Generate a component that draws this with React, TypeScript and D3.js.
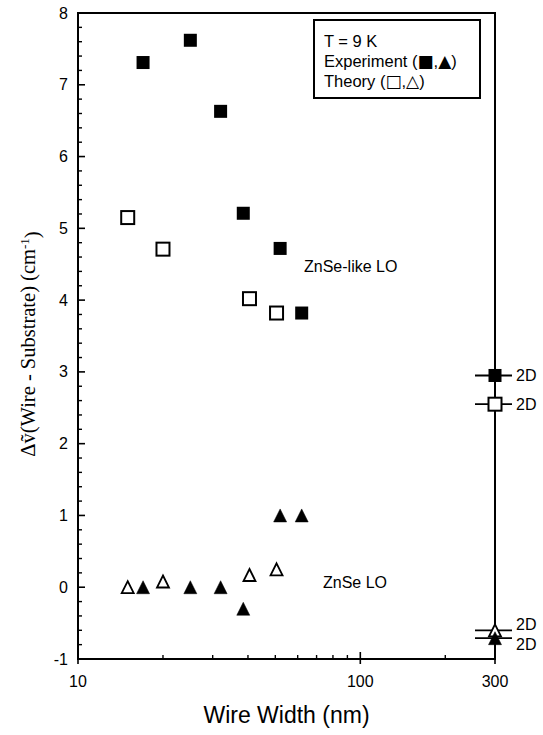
import React from "react";
import * as d3 from "d3";

// Experiment (filled markers)
const expWidth = [17, 25, 32, 38.5, 52, 62];
const expZnSeLike = [7.31, 7.62, 6.63, 5.21, 4.72, 3.82];
const expZnSe = [0, 0, 0, -0.3, 1.0, 1.0];
// Theory (open markers)
const theoryWidth = [15, 20, 40.5, 50.5];
const theoryZnSeLike = [5.15, 4.71, 4.02, 3.82];
const theoryZnSe = [0, 0.08, 0.17, 0.25];
// 2D limits at the right edge
const width2D = 300;
const kinds2D = ["expSquare", "theorySquare", "theoryTriangle", "expTriangle"];
const values2D = [2.95, 2.55, -0.6, -0.71];
const labelShift2D = [0, 0, -6, 6];

const yTicks = [-1, 0, 1, 2, 3, 4, 5, 6, 7, 8];
const xTicks = [10, 100, 300];
const xMinorTicks = [20, 30, 40, 50, 60, 70, 80, 90, 200];

const W = 543;
const H = 735;
const M = { left: 78, right: 48, top: 13, bottom: 76 };

export default function App() {
  const x = d3.scaleLog().domain([10, 300]).range([M.left, W - M.right]);
  const y = d3.scaleLinear().domain([-1, 8]).range([H - M.bottom, M.top]);
  const sans = "Arial, 'Liberation Sans', Helvetica, sans-serif";
  const serif = "'Times New Roman', 'Liberation Serif', 'DejaVu Serif', serif";
  const sym = "'DejaVu Sans', sans-serif";

  const sq = 6.5;
  const square = (cx: number, cy: number, filled: boolean, key: string) => (
    <rect key={key} x={cx - sq} y={cy - sq} width={2 * sq} height={2 * sq}
      fill={filled ? "#000" : "#fff"} stroke="#000" strokeWidth={filled ? 0 : 2} />
  );
  const tri = (cx: number, cy: number, filled: boolean, key: string) => {
    const h = filled ? 6.5 : 6;
    const w = filled ? 6.5 : 6;
    const p = d3.path();
    p.moveTo(cx, cy - h);
    p.lineTo(cx + w, cy + h);
    p.lineTo(cx - w, cy + h);
    p.closePath();
    return (
      <path key={key} d={p.toString()} fill={filled ? "#000" : "#fff"} stroke="#000"
        strokeWidth={filled ? 0.5 : 1.8} strokeLinejoin="miter" />
    );
  };

  const minorY = d3.range(-1, 8.001, 0.2).filter((v) => Math.abs(v - Math.round(v)) > 0.01);
  const x0 = M.left, x1 = W - M.right, y0 = H - M.bottom, y1 = M.top;
  const xr = x(width2D);

  return (
    <svg width={W} height={H} style={{ position: "absolute", left: 0, top: 0 }}>
      <rect x={0} y={0} width={W} height={H} fill="#fff" />
      {/* frame */}
      <path d={`M${x0},${y1}H${x1}V${y0}H${x0}Z`} fill="none" stroke="#000" strokeWidth={2} />
      {/* y ticks */}
      {yTicks.map((t) => (
        <g key={"yt" + t}>
          <line x1={x0} x2={x0 + 7} y1={y(t)} y2={y(t)} stroke="#000" strokeWidth={1.6} />
          <text x={x0 - 10} y={y(t)} dy="0.35em" textAnchor="end" fontFamily={sans} fontSize={16}>{t}</text>
        </g>
      ))}
      {minorY.map((t) => (
        <line key={"ym" + t} x1={x0} x2={x0 + 4} y1={y(t)} y2={y(t)} stroke="#000" strokeWidth={1.4} />
      ))}
      {/* x ticks */}
      {xTicks.map((t) => (
        <g key={"xt" + t}>
          <line x1={x(t)} x2={x(t)} y1={y0 + 5} y2={t === 300 ? y0 : y0 - 7} stroke="#000" strokeWidth={1.6} />
          <text x={x(t)} y={y0 + 22} dy="0.35em" textAnchor="middle" fontFamily={sans} fontSize={16}>{t}</text>
        </g>
      ))}
      {xMinorTicks.map((t) => (
        <line key={"xm" + t} x1={x(t)} x2={x(t)} y1={y0} y2={y0 - 4} stroke="#000" strokeWidth={1.4} />
      ))}
      {/* axis titles */}
      <text x={(x0 + x1) / 2} y={H - 20} dy="0.35em" textAnchor="middle" fontFamily={sans} fontSize={23}>Wire Width (nm)</text>
      <text transform={`translate(28,${(y0 + y1) / 2 + 8}) rotate(-90)`} textAnchor="middle" fontFamily={serif} fontSize={20.5} dy="0.35em">
        Δṽ(Wire - Substrate) (cm<tspan dy="-0.45em" fontSize={13}>-1</tspan><tspan dy="0.45em">)</tspan>
      </text>

      {/* data */}
      {expWidth.map((w, i) => square(x(w), y(expZnSeLike[i]), true, "es" + i))}
      {theoryWidth.map((w, i) => square(x(w), y(theoryZnSeLike[i]), false, "ts" + i))}
      {theoryWidth.map((w, i) => tri(x(w), y(theoryZnSe[i]), false, "tt" + i))}
      {expWidth.map((w, i) => tri(x(w), y(expZnSe[i]), true, "et" + i))}

      {/* 2D limits */}
      {values2D.map((v, i) => (
        <line key={"2d" + i} x1={xr - 20} x2={xr + 17} y1={y(v)} y2={y(v)} stroke="#000" strokeWidth={1.8} />
      ))}
      {values2D.map((v, i) => {
        const k = kinds2D[i];
        const filled = k.startsWith("exp");
        return k.endsWith("Square") ? square(xr, y(v), filled, "m2d" + i) : tri(xr, y(v), filled, "m2d" + i);
      })}
      {values2D.map((v, i) => (
        <text key={"l2d" + i} x={xr + 21} y={y(v) + labelShift2D[i]} dy="0.35em" fontFamily={sans} fontSize={16}>2D</text>
      ))}

      {/* annotations */}
      <text x={304} y={266} dy="0.35em" fontFamily={sans} fontSize={16}>ZnSe-like LO</text>
      <text x={323} y={582} dy="0.35em" fontFamily={sans} fontSize={16}>ZnSe LO</text>

      {/* legend box */}
      <rect x={314} y={20} width={166} height={78} fill="#fff" stroke="#000" strokeWidth={2} />
      <text x={324} y={41} dy="0.35em" fontFamily={sans} fontSize={16.5}>T = 9 K</text>
      <text x={324} y={61} dy="0.35em" fontFamily={sans} fontSize={16.5}>Experiment (<tspan fontFamily={sym} fontSize={17}>■</tspan>,<tspan fontFamily={sym} fontSize={17}>▲</tspan>)</text>
      <text x={324} y={81} dy="0.35em" fontFamily={sans} fontSize={16.5}>Theory (<tspan fontFamily={sym} fontSize={17}>□</tspan>,<tspan fontFamily={sym} fontSize={17}>△</tspan>)</text>
    </svg>
  );
}
